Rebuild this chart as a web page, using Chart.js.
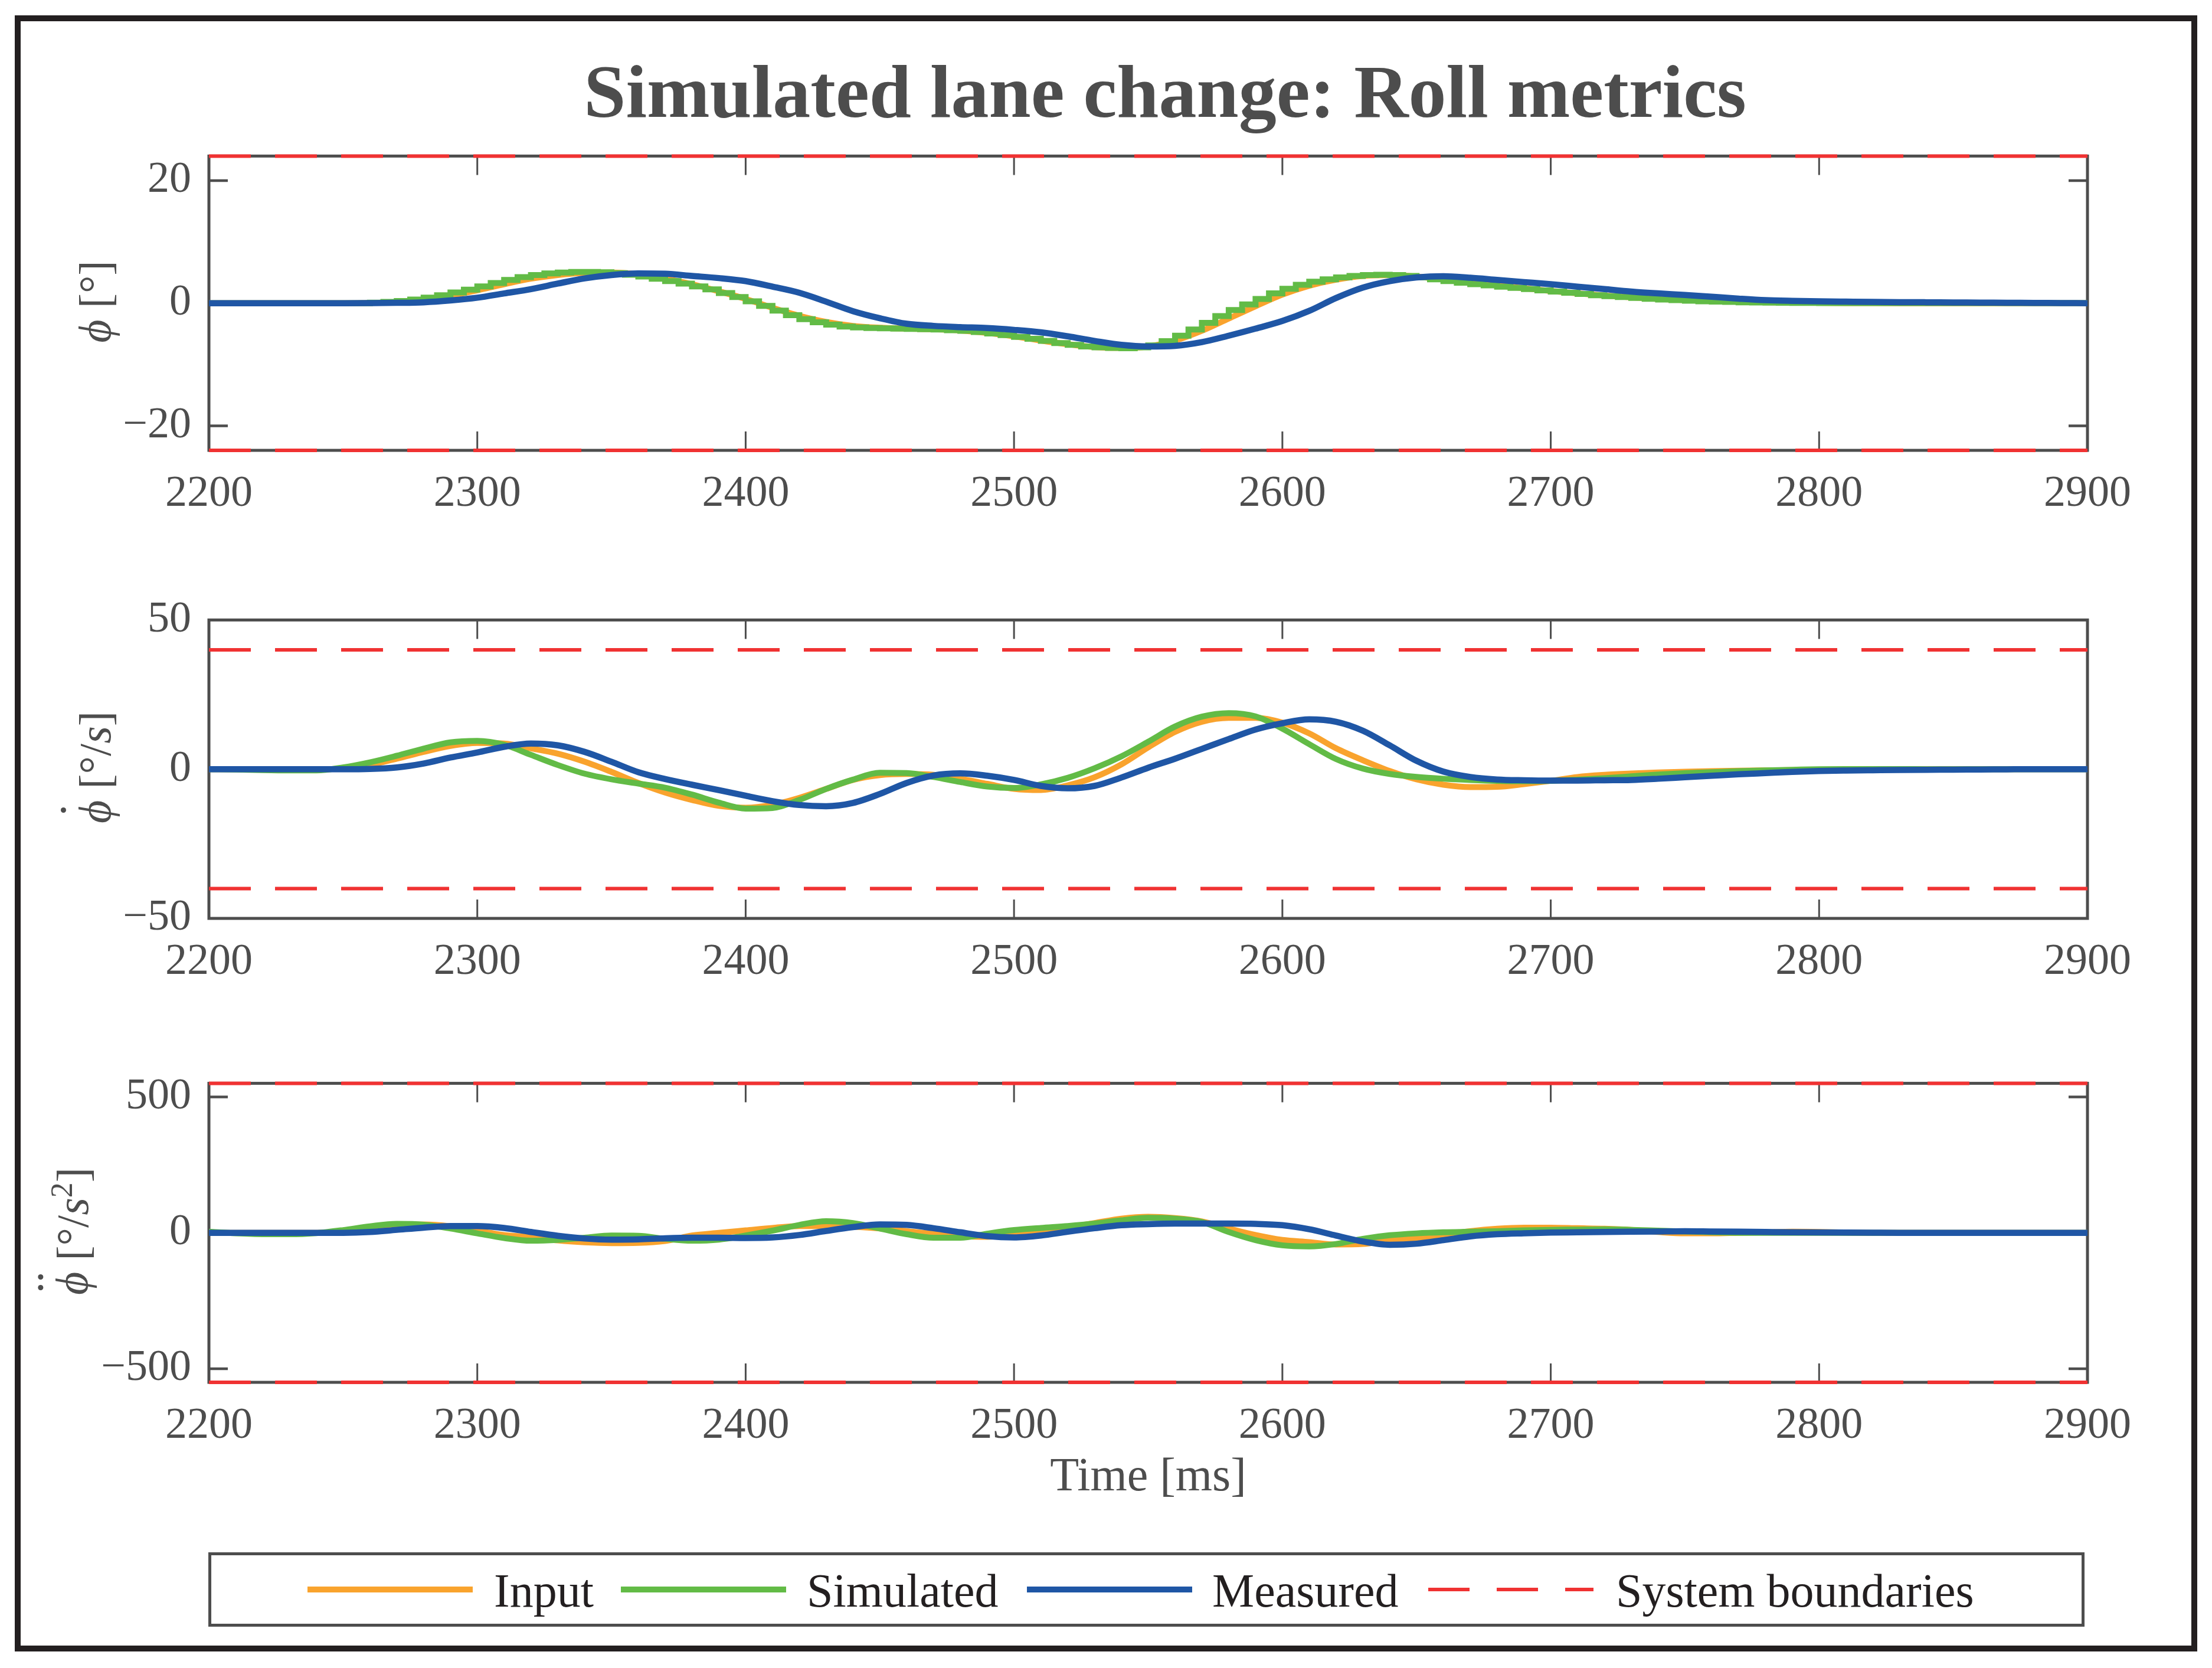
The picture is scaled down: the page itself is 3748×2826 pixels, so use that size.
<!DOCTYPE html>
<html>
<head>
<meta charset="utf-8">
<script src="https://cdn.jsdelivr.net/npm/chart.js@4.4.1/dist/chart.umd.min.js"></script>
<style>
  html, body { margin: 0; padding: 0; background: #fff; }
  body { width: 3748px; height: 2826px; position: relative; overflow: hidden; font-family: 'Liberation Serif', serif; }
  .abs { position: absolute; }
  #frame { left: 25px; top: 26px; width: 3698px; height: 2772px; border: 10px solid #231f20; box-sizing: border-box; }
  #title { left: 0; top: 91px; width: 3948px; text-align: center; font-weight: bold; font-size: 128px; line-height: 1; color: #4d4d4d; white-space: nowrap; }
  .ylab { position: absolute; font-size: 76px; line-height: 1; color: #4d4d4d; white-space: nowrap; transform: translate(-50%, -50%) rotate(-90deg); }
  .acc { position: relative; display: inline-block; }
  .dot { position: absolute; top: -20px; width: 9px; height: 9px; border-radius: 50%; background: #4d4d4d; }
  canvas { position: absolute; left: 0; }
  #legend { left: 353px; top: 2630px; width: 3179px; height: 126px; border: 5px solid #4d4d4d; box-sizing: border-box; }
  .sw { position: absolute; top: 2688px; height: 10px; width: 280px; }
  .lt { position: absolute; top: 2655px; font-size: 80px; line-height: 1; color: #231f20; white-space: nowrap; }
</style>
</head>
<body>
<div id="frame" class="abs"></div>
<div id="title" class="abs">Simulated lane change: Roll metrics</div>

<div class="ylab" style="left:161px; top:511px"><i>ϕ</i> [°]</div>
<div class="ylab" style="left:161px; top:1300px"><span class="acc"><i>ϕ</i><span class="dot" style="left:calc(50% - 2px)"></span></span> [°/<i>s</i>]</div>
<div class="ylab" style="left:120px; top:2086px"><span class="acc"><i>ϕ</i><span class="dot" style="left:calc(50% - 12px)"></span><span class="dot" style="left:calc(50% + 6px)"></span></span> [°/<i>s</i><sup style="font-size:52px">2</sup>]</div>

<canvas id="rollChart" width="3637" height="705" style="top:198px"></canvas>
<canvas id="rateChart" width="3637" height="712" style="top:984px"></canvas>
<canvas id="accChart" width="3637" height="813" style="top:1769px"></canvas>

<div id="legend" class="abs"></div>
<div class="sw" style="left:521px; background:#f9a32d"></div>
<div class="lt" style="left:837px">Input</div>
<div class="sw" style="left:1052px; background:#62bb46"></div>
<div class="lt" style="left:1367px">Simulated</div>
<div class="sw" style="left:1740px; background:#1f56a5"></div>
<div class="lt" style="left:2054px">Measured</div>
<div class="sw" style="left:2420px; top:2690px; height:6px; background:repeating-linear-gradient(to right, #f03232 0 70px, transparent 70px 116px)"></div>
<div class="lt" style="left:2738px">System boundaries</div>

<script>
const orange = '#f9a32d'
const green = '#62bb46'
const blue = '#1f56a5'
const red = '#f03232'
const axisColor = '#4d4d4d'

// time axis, 10 ms samples
const time = [
  2200, 2210, 2220, 2230, 2240, 2250, 2260, 2270, 2280, 2290,
  2300, 2310, 2320, 2330, 2340, 2350, 2360, 2370, 2380, 2390,
  2400, 2410, 2420, 2430, 2440, 2450, 2460, 2470, 2480, 2490,
  2500, 2510, 2520, 2530, 2540, 2550, 2560, 2570, 2580, 2590,
  2600, 2610, 2620, 2630, 2640, 2650, 2660, 2670, 2680, 2690,
  2700, 2710, 2720, 2730, 2740, 2750, 2760, 2770, 2780, 2790,
  2800, 2810, 2820, 2830, 2840, 2850, 2860, 2870, 2880, 2890,
  2900
]
const timeTicks = [2200, 2300, 2400, 2500, 2600, 2700, 2800, 2900]

// roll angle [deg]
const rollInput = [
  0, 0, 0, 0, 0, 0, 0.05, 0.2, 0.55, 1.2,
  2.1, 3.1, 4.0, 4.6, 4.95, 5.0, 4.7, 4.0, 3.1, 1.95,
  0.7, -0.75, -2.05, -3.05, -3.7, -4.0, -4.15, -4.25, -4.45, -4.85,
  -5.4, -6.1, -6.7, -7.15, -7.3, -7.05, -6.1, -4.5, -2.5, -0.5,
  1.4, 2.85, 3.85, 4.45, 4.6, 4.35, 3.85, 3.35, 2.9, 2.45,
  2.0, 1.6, 1.25, 0.95, 0.7, 0.5, 0.35, 0.24, 0.16, 0.1,
  0.06, 0.03, 0.01, 0, 0, 0, 0, 0, 0, 0,
  0
]
const rollMeasured = [
  0, 0, 0, 0, 0, 0, 0.02, 0.06, 0.15, 0.45,
  0.9, 1.6, 2.3, 3.2, 4.05, 4.6, 4.85, 4.8, 4.45, 4.1,
  3.6, 2.7, 1.7, 0.25, -1.3, -2.45, -3.35, -3.7, -3.9, -4.05,
  -4.35, -4.75, -5.4, -6.15, -6.8, -7.05, -6.95, -6.35, -5.3, -4.15,
  -2.9, -1.25, 0.85, 2.55, 3.6, 4.2, 4.4, 4.15, 3.8, 3.45,
  3.1, 2.7, 2.3, 1.9, 1.6, 1.35, 1.05, 0.75, 0.5, 0.38,
  0.3, 0.25, 0.2, 0.17, 0.15, 0.12, 0.1, 0.07, 0.05, 0.02,
  0
]
// simulated roll comes out of the model in 5 ms steps
const rollSimTime = [
  2200, 2255, 2260, 2265, 2270, 2275, 2280, 2285, 2290, 2295,
  2300, 2305, 2310, 2315, 2320, 2325, 2330, 2335, 2340, 2345,
  2350, 2355, 2360, 2365, 2370, 2375, 2380, 2385, 2390, 2395,
  2400, 2405, 2410, 2415, 2420, 2425, 2430, 2435, 2440, 2445,
  2450, 2455, 2460, 2465, 2470, 2475, 2480, 2485, 2490, 2495,
  2500, 2505, 2510, 2515, 2520, 2525, 2530, 2535, 2540, 2545,
  2550, 2555, 2560, 2565, 2570, 2575, 2580, 2585, 2590, 2595,
  2600, 2605, 2610, 2615, 2620, 2625, 2630, 2635, 2640, 2645,
  2650, 2655, 2660, 2665, 2670, 2675, 2680, 2685, 2690, 2695,
  2700, 2705, 2710, 2715, 2720, 2725, 2730, 2735, 2740, 2745,
  2750, 2755, 2760, 2765, 2770, 2775, 2780, 2785, 2790, 2795,
  2800, 2900
]
const rollSim = [
  0, 0, 0.1, 0.2, 0.35, 0.6, 0.9, 1.3, 1.75, 2.2,
  2.75, 3.3, 3.8, 4.25, 4.6, 4.85, 5.0, 5.1, 5.1, 5.05,
  4.9, 4.65, 4.35, 4.0, 3.6, 3.2, 2.75, 2.25, 1.65, 1.0,
  0.3, -0.45, -1.2, -1.95, -2.6, -3.1, -3.5, -3.8, -3.95, -4.05,
  -4.1, -4.15, -4.2, -4.25, -4.3, -4.4, -4.5, -4.7, -4.95, -5.2,
  -5.5, -5.8, -6.15, -6.5, -6.8, -7.05, -7.2, -7.3, -7.35, -7.2,
  -6.9, -6.2, -5.3, -4.3, -3.2, -2.1, -1.1, -0.2, 0.7, 1.6,
  2.35, 3.0, 3.5, 3.9, 4.2, 4.45, 4.6, 4.65, 4.6, 4.45,
  4.2, 3.9, 3.6, 3.35, 3.1, 2.9, 2.7, 2.5, 2.3, 2.1,
  1.9, 1.7, 1.5, 1.3, 1.15, 1.0, 0.85, 0.72, 0.6, 0.5,
  0.4, 0.32, 0.25, 0.2, 0.15, 0.12, 0.09, 0.07, 0.05, 0.04,
  0.03, 0
]
const rollTicks = [-20, 0, 20]
const rollBounds = [-24, 24]

// roll rate [deg/s]
const rateInput = [
  0, 0, 0, 0, 0, 0.2, 1.5, 3.5, 5.8, 7.8,
  8.8, 8.6, 7.0, 5.2, 2.5, -0.9, -4.6, -7.8, -10.3, -12.3,
  -12.9, -11.9, -9.6, -6.6, -3.6, -2.0, -1.6, -1.9, -3.2, -4.9,
  -6.6, -7.0, -5.4, -2.7, 1.6, 7.3, 12.5, 15.9, 17.2, 17.2,
  15.6, 12.0, 7.0, 3.0, -0.6, -3.4, -5.2, -6.0, -5.9, -5.0,
  -3.9, -2.6, -1.9, -1.45, -1.1, -0.85, -0.65, -0.5, -0.4, -0.3,
  -0.2, -0.1, 0, 0, 0, 0, 0, 0, 0, 0,
  0
]
const rateSim = [
  0, -0.1, -0.3, -0.4, -0.4, 0.6, 2.3, 4.5, 6.9, 9.0,
  9.5, 8.2, 4.8, 1.4, -1.5, -3.4, -4.8, -6.2, -8.5, -11.2,
  -13.2, -13.0, -10.3, -6.6, -3.5, -1.2, -1.3, -2.6, -4.3, -5.8,
  -6.3, -5.1, -2.9, 0.3, 4.3, 9.2, 14.3, 17.6, 18.8, 17.7,
  13.6, 8.4, 3.4, 0.2, -1.6, -2.6, -3.2, -3.6, -3.9, -4.0,
  -3.9, -3.5, -3.0, -2.4, -1.8, -1.35, -1.0, -0.65, -0.4, -0.2,
  0, 0.05, 0.05, 0.05, 0, 0, 0, 0, 0, 0,
  0
]
const rateMeasured = [
  0, 0, 0, 0, 0, 0, 0.1, 0.6, 1.9, 3.9,
  5.6, 7.5, 8.6, 8.0, 5.8, 2.5, -1.0, -3.3, -5.2, -7.0,
  -8.9, -10.7, -12.0, -12.4, -11.3, -8.3, -4.6, -2.1, -1.4, -2.2,
  -3.6, -5.6, -6.4, -5.6, -2.8, 0.5, 3.5, 6.8, 10.1, 13.3,
  15.4, 16.7, 15.9, 12.9, 8.0, 2.8, -0.8, -2.6, -3.45, -3.7,
  -3.8, -3.8, -3.7, -3.6, -3.2, -2.7, -2.2, -1.7, -1.3, -0.9,
  -0.6, -0.45, -0.35, -0.25, -0.2, -0.15, -0.1, -0.05, 0, 0,
  0
]
const rateTicks = [-50, 0, 50]
const rateBounds = [-40, 40]

// roll acceleration [deg/s^2]
const accInput = [
  0, 0, 0, 0, 0, 4, 14, 26, 31, 24,
  8, -8, -16, -28, -35, -38, -37, -30, -10, 0,
  9, 18, 25, 25, 22, 16, 6, -4, -12, -15,
  -5, 8, 20, 36, 52, 59, 54, 42, 16, -8,
  -26, -34, -43, -41, -27, -19, -8, 6, 15, 19,
  19, 17, 15, 11, 3, -2, -2, 0, 2, 4,
  3, 1, 0, 0, 0, 0, 0, 0, 0, 0,
  0
]
const accSim = [
  4, -2, -5, -5, -1, 10, 24, 33, 30, 16,
  -2, -19, -29, -26, -18, -10, -11, -22, -29, -25,
  -10, 8, 29, 43, 36, 16, -5, -18, -18, -3,
  10, 18, 25, 34, 46, 55, 52, 40, 3, -27,
  -46, -50, -41, -22, -9, -2, 2, 4, 6, 9,
  11, 12, 13, 11, 8, 5, 2, 0, 0, 0,
  0, 0, 0, 0, 0, 0, 0, 0, 0, 0,
  0
]
const accMeasured = [
  0, 0, 0, 0, 0, 0, 3, 11, 19, 25,
  25, 18, 3, -11, -21, -25, -24, -20, -18, -18,
  -19, -17, -8, 7, 21, 31, 29, 17, 2, -12,
  -17, -10, 4, 17, 28, 32, 34, 34, 34, 33,
  28, 13, -10, -32, -44, -40, -27, -13, -5, -1.5,
  1, 2, 3, 4, 5, 6, 5, 4, 3, 2,
  1.5, 1, 0.5, 0, 0, 0, 0, 0, 0, 0,
  0
]
const accTicks = [-500, 0, 500]
const accBounds = [-550, 550]

Chart.defaults.font.family = "'Liberation Serif', serif"

const tickLen = 32
// matlab style box with inward ticks on all four sides
const axesBox = {
  id: 'axesBox',
  beforeDatasetsDraw(chart) {
    const ctx = chart.ctx
    const a = chart.chartArea
    const xs = chart.scales.x
    const ys = chart.scales.y
    ctx.save()
    ctx.strokeStyle = axisColor
    ctx.lineWidth = 3
    ctx.beginPath()
    xs.ticks.forEach(t => {
      const px = xs.getPixelForValue(t.value)
      if (px <= a.left + 1 || px >= a.right - 1) return
      ctx.moveTo(px, a.bottom); ctx.lineTo(px, a.bottom - tickLen)
      ctx.moveTo(px, a.top); ctx.lineTo(px, a.top + tickLen)
    })
    ctx.stroke()
    ctx.lineWidth = 4.5
    ctx.beginPath()
    ys.ticks.forEach(t => {
      const py = ys.getPixelForValue(t.value)
      if (py <= a.top + 1 || py >= a.bottom - 1) return
      ctx.moveTo(a.left, py); ctx.lineTo(a.left + tickLen, py)
      ctx.moveTo(a.right, py); ctx.lineTo(a.right - tickLen, py)
    })
    ctx.stroke()
    ctx.lineWidth = 5
    ctx.strokeRect(a.left, a.top, a.right - a.left, a.bottom - a.top)
    ctx.restore()
  }
}

function series(xs, ys, color, width, order, stepped) {
  return {
    data: xs.map((x, i) => ({ x: x, y: ys[i] })),
    borderColor: color,
    borderWidth: width,
    pointRadius: 0,
    fill: false,
    order: order,
    stepped: stepped || false,
    cubicInterpolationMode: 'monotone'
  }
}

function boundary(v) {
  return {
    data: [{ x: time[0], y: v }, { x: time[time.length - 1], y: v }],
    borderColor: red,
    borderWidth: 6,
    borderDash: [71, 41],
    pointRadius: 0,
    fill: false,
    order: 0,
    clip: 12
  }
}

function fmt(v) {
  return v < 0 ? '\u2212' + (-v) : String(v)
}

function makePanel(id, datasets, yTicks, yRange, xHeight, xTitle) {
  return new Chart(document.getElementById(id), {
    type: 'line',
    data: { datasets: datasets },
    plugins: [axesBox],
    options: {
      responsive: false,
      animation: false,
      devicePixelRatio: 1,
      layout: { padding: { top: 60, right: 100, left: 0, bottom: 0 } },
      plugins: { legend: { display: false }, tooltip: { enabled: false } },
      scales: {
        x: {
          type: 'linear',
          min: time[0],
          max: time[time.length - 1],
          afterBuildTicks: s => { s.ticks = timeTicks.map(v => ({ value: v })) },
          afterFit: s => { s.height = xHeight },
          grid: { display: false },
          border: { display: false },
          ticks: { padding: 22, color: axisColor, font: { size: 74 }, callback: fmt, autoSkip: false, maxRotation: 0 },
          title: {
            display: !!xTitle,
            text: xTitle || '',
            color: axisColor,
            font: { size: 80 },
            padding: { top: 0, bottom: 30 }
          }
        },
        y: {
          type: 'linear',
          min: yRange[0],
          max: yRange[1],
          afterBuildTicks: s => { s.ticks = yTicks.map(v => ({ value: v })) },
          afterFit: s => { s.width = 354 },
          grid: { display: false },
          border: { display: false },
          ticks: { padding: 22, color: axisColor, font: { size: 74 }, callback: fmt }
        }
      }
    }
  })
}

makePanel('rollChart', [
  series(time, rollMeasured, blue, 10.5, 1),
  series(rollSimTime, rollSim, green, 10, 2, true),
  series(time, rollInput, orange, 10, 3),
  boundary(rollBounds[0]),
  boundary(rollBounds[1])
], rollTicks, rollBounds, 140)

makePanel('rateChart', [
  series(time, rateMeasured, blue, 10.5, 1),
  series(time, rateSim, green, 10, 2),
  series(time, rateInput, orange, 10, 3),
  boundary(rateBounds[0]),
  boundary(rateBounds[1])
], rateTicks, [-50, 50], 140)

makePanel('accChart', [
  series(time, accMeasured, blue, 10.5, 1),
  series(time, accSim, green, 10, 2),
  series(time, accInput, orange, 10, 3),
  boundary(accBounds[0]),
  boundary(accBounds[1])
], accTicks, accBounds, 240, 'Time [ms]')
</script>
</body>
</html>
